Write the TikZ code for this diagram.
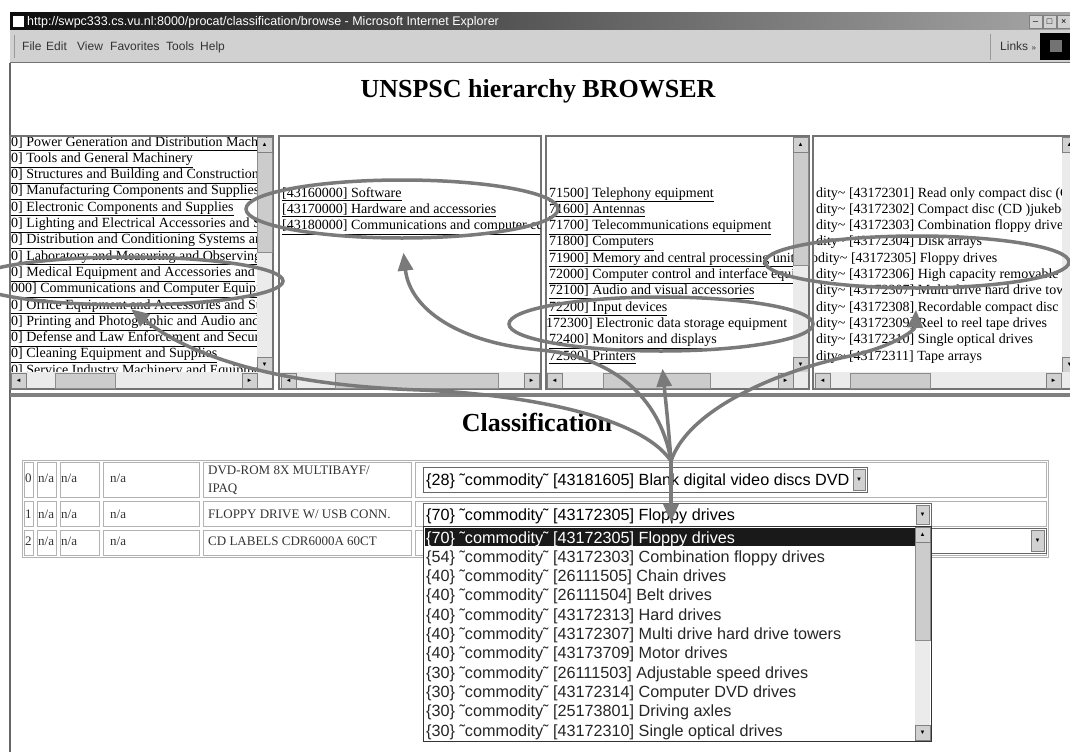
\documentclass[tikz,border=0pt]{standalone}
\usepackage{fontspec}
\setmainfont{Liberation Serif}
\setsansfont{Liberation Sans}
\usetikzlibrary{shapes.geometric, arrows.meta, positioning}

\newcommand{\lnk}[1]{\underline{#1}}
\newcommand{\cmty}{˜commodity˜}

\begin{document}
\begin{tikzpicture}[
  x=1pt, y=-1pt,
  %--- style definitions ---
  item/.style     = {anchor=base west, inner sep=0pt, font=\fontsize{14}{16}\selectfont},
  pane/.style     = {draw=black!55, line width=1.2pt, fill=white},
  track/.style    = {fill=black!8},
  thumb/.style    = {fill=black!20, draw=black!45, line width=0.6pt},
  sbtn/.style     = {rectangle, draw=black!50, fill=black!18, minimum size=15pt,
                     inner sep=0pt, anchor=north west, font=\sffamily\fontsize{6}{6}\selectfont},
  cellline/.style = {draw=black!30, line width=0.9pt},
  cellt/.style    = {anchor=base west, inner sep=0pt, font=\fontsize{13}{15}\selectfont, text=black!80},
  selbox/.style   = {rectangle, draw=black!60, line width=1pt, fill=white,
                     anchor=north west, inner sep=0pt},
  seltext/.style  = {anchor=base west, inner sep=0pt, font=\sffamily\fontsize{16.2}{19}\selectfont},
  heading/.style  = {font=\bfseries\fontsize{26}{30}\selectfont, inner sep=0pt},
  menu/.style     = {anchor=base west, inner sep=0pt, font=\sffamily\fontsize{12}{14}\selectfont, text=black!80},
  circ/.style     = {ellipse, draw=black!52, line width=3.5pt, inner sep=0pt},
  hlarrow/.style  = {-{Triangle[length=18pt,width=15pt]}, line width=3.5pt, draw=black!52},
]
\useasboundingbox (0,0) rectangle (1070,752);
\fill[white] (0,0) rectangle (1070,752);

%% ── WINDOW CHROME ──────────────────────────────────────────────────────────
\shade[left color=black!95, right color=black!35] (10,13) rectangle (1070,30);
\fill[white] (13,16) rectangle (24,27);
\node[anchor=base west, inner sep=0pt, text=white, font=\sffamily\fontsize{12.5}{14}\selectfont]
  (wtitle) at (27,26) {http://swpc333.cs.vu.nl:8000/procat/classification/browse - Microsoft Internet Explorer};
\node[sbtn, minimum size=13pt, font=\sffamily\fontsize{9}{9}\selectfont] (bmin) at (1029,15) {\_};
\node[sbtn, minimum size=13pt, font=\sffamily\fontsize{9}{9}\selectfont] (bmax) at (1043,15) {□};
\node[sbtn, minimum size=13pt, font=\sffamily\fontsize{9}{9}\selectfont] (bcls) at (1057,15) {×};

\fill[black!18] (10,30) rectangle (1070,62);
\draw[black!55, line width=1.5pt] (10,62.5) -- (1070,62.5);
\draw[black!40] (14,35) -- (14,58);
\node[menu] (mfile) at (22,51)  {File};
\node[menu] (medit) at (46,51)  {Edit};
\node[menu] (mview) at (77,51)  {View};
\node[menu] (mfav)  at (110,51) {Favorites};
\node[menu] (mtool) at (166,51) {Tools};
\node[menu] (mhelp) at (200,51) {Help};
\draw[black!40] (990,34) -- (990,60);
\node[menu] (mlinks) at (1000,51) {Links \fontsize{8}{8}\selectfont»};
\fill[black] (1040,33) rectangle (1070,60);
\fill[black!55] (1050,40) rectangle (1062,52);
\draw[black!60, line width=1.5pt] (10,63) -- (10,752);

%% ── TOP FRAME : BROWSER ────────────────────────────────────────────────────
\node[heading] (browser) at (538,91) {UNSPSC hierarchy BROWSER};

% panel 1 : segments
\draw[pane] (10,136) rectangle (273,389);
\begin{scope}
  \clip (11,137) rectangle (257,372);
  \foreach \t [count=\i from 0] in {
      0] Power Generation and Distribution Machinery,
      0] Tools and General Machinery,
      0] Structures and Building and Construction,
      0] Manufacturing Components and Supplies,
      0] Electronic Components and Supplies,
      0] Lighting and Electrical Accessories and Supplies,
      0] Distribution and Conditioning Systems and,
      0] Laboratory and Measuring and Observing,
      0] Medical Equipment and Accessories and,
      000] Communications and Computer Equipment,
      0] Office Equipment and Accessories and Supplies,
      0] Printing and Photographic and Audio and,
      0] Defense and Law Enforcement and Security,
      0] Cleaning Equipment and Supplies,
      0] Service Industry Machinery and Equipment}
    \node[item] (pa-\i) at (11,146+16.3*\i) {\lnk{\t}};
\end{scope}
\fill[track] (257,137) rectangle (272,372);
\fill[thumb] (257,152) rectangle (272,252);
\node[sbtn] (pa-up) at (257,137) {▲};
\node[sbtn] (pa-dn) at (257,357) {▼};
\fill[track] (11,372) rectangle (272,388);
\fill[thumb] (55,373) rectangle (115,388);
\node[sbtn] (pa-lt) at (11,373) {◄};
\node[sbtn] (pa-rt) at (242,373) {►};

% panel 2 : families
\draw[pane] (279,136) rectangle (541,389);
\begin{scope}
  \clip (280,137) rectangle (540,372);
  \foreach \t [count=\i from 0] in {
      [43160000] Software,
      [43170000] Hardware and accessories,
      [43180000] Communications and computer equipment}
    \node[item] (pb-\i) at (282,197+16.3*\i) {\lnk{\t}};
\end{scope}
\fill[track] (280,372) rectangle (540,388);
\fill[thumb] (335,373) rectangle (498,388);
\node[sbtn] (pb-lt) at (281,373) {◄};
\node[sbtn] (pb-rt) at (524,373) {►};

% panel 3 : classes
\draw[pane] (546,136) rectangle (809,389);
\begin{scope}
  \clip (547,137) rectangle (793,372);
  \foreach \t [count=\i from 0] in {
      71500] Telephony equipment,
      71600] Antennas,
      71700] Telecommunications equipment,
      71800] Computers,
      71900] Memory and central processing unit,
      72000] Computer control and interface equipment,
      72100] Audio and visual accessories,
      72200] Input devices,
      ,
      72400] Monitors and displays,
      72500] Printers}
    \node[item] (pc-\i) at (549,197+16.3*\i) {\lnk{\t}};
  \node[item] (pc-sel) at (546,197+16.3*8) {172300] Electronic data storage equipment};
\end{scope}
\fill[track] (793,137) rectangle (808,372);
\fill[thumb] (793,152) rectangle (808,265);
\node[sbtn] (pc-up) at (793,137) {▲};
\node[sbtn] (pc-dn) at (793,357) {▼};
\fill[track] (547,372) rectangle (808,388);
\fill[thumb] (603,373) rectangle (710,388);
\node[sbtn] (pc-lt) at (547,373) {◄};
\node[sbtn] (pc-rt) at (778,373) {►};

% panel 4 : commodities
\draw[pane] (813,136) rectangle (1078,389);
\begin{scope}
  \clip (814,137) rectangle (1062,372);
  \foreach \t [count=\i from 0] in {
      dity\textasciitilde{} [43172301] Read only compact disc (CD,
      dity\textasciitilde{} [43172302] Compact disc (CD )jukebox,
      dity\textasciitilde{} [43172303] Combination floppy drives,
      dity\textasciitilde{} [43172304] Disk arrays,
      ,
      dity\textasciitilde{} [43172306] High capacity removable,
      dity\textasciitilde{} [43172307] Multi drive hard drive tow,
      dity\textasciitilde{} [43172308] Recordable compact disc,
      dity\textasciitilde{} [43172309] Reel to reel tape drives,
      dity\textasciitilde{} [43172310] Single optical drives,
      dity\textasciitilde{} [43172311] Tape arrays}
    \node[item] (pd-\i) at (816,197+16.3*\i) {\t};
  \node[item] (pd-sel) at (811,197+16.3*4) {odity\textasciitilde{} [43172305] Floppy drives};
\end{scope}
\fill[track] (1062,137) rectangle (1077,372);
\node[sbtn] (pd-up) at (1062,137) {▲};
\node[sbtn] (pd-dn) at (1062,357) {▼};
\fill[track] (814,372) rectangle (1070,388);
\fill[thumb] (850,373) rectangle (930,388);
\node[sbtn] (pd-lt) at (815,373) {◄};
\node[sbtn] (pd-rt) at (1046,373) {►};

\fill[black!50] (10,393) rectangle (1070,397);

%% ── BOTTOM FRAME : CLASSIFICATION ──────────────────────────────────────────
\node[heading] (classif) at (537,422) {Classification};

\draw[cellline] (22,460) rectangle (1048,557);
\foreach \xa/\xb in {22/35, 35/58, 58/101, 101/201, 201/413, 413/1048}
  \foreach \ya/\yb in {460/499, 499/528, 528/557}
    \draw[cellline] (\xa+2,\ya+2) rectangle (\xb-2,\yb-2);

\foreach \r/\yb in {0/482, 1/518, 2/545} {
  \node[cellt] (r\r-n) at (25,\yb)  {\r};
  \node[cellt] (r\r-a) at (38,\yb)  {n/a};
  \node[cellt] (r\r-b) at (61,\yb)  {n/a};
  \node[cellt] (r\r-c) at (110,\yb) {n/a};
}
\node[cellt] (r0-d)  at (208,474) {DVD-ROM 8X MULTIBAYF/};
\node[cellt] (r0-d2) at (208,492) {IPAQ};
\node[cellt] (r1-d)  at (208,518) {FLOPPY DRIVE W/ USB CONN.};
\node[cellt] (r2-d)  at (208,545) {CD LABELS CDR6000A 60CT};

% select boxes
\node[selbox, minimum width=444pt, minimum height=25pt] (sel0) at (423,467) {};
\node[seltext] (sel0-t) at (426,485) {\{28\} \cmty{} [43181605] Blank digital video discs DVD};
\node[sbtn, minimum width=12pt, minimum height=21pt] (sel0-b) at (853,469) {▼};

\node[selbox, minimum width=623pt, minimum height=25pt] (sel2) at (423,528) {};
\node[sbtn, minimum width=13pt, minimum height=21pt] (sel2-b) at (1031,530) {▼};

\node[selbox, minimum width=508pt, minimum height=23pt] (sel1) at (423,503) {};
\node[seltext] (sel1-t) at (426,520) {\{70\} \cmty{} [43172305] Floppy drives};
\node[sbtn, minimum width=13pt, minimum height=19pt] (sel1-b) at (916,505) {▼};

% opened drop-down list
\node[selbox, draw=black!80, minimum width=508pt, minimum height=215pt] (dd) at (423,526) {};
\fill[black!90] (425,528) rectangle (915,546);
\foreach \t [count=\i from 0] in {
    ,
    \{54\} \cmty{} [43172303] Combination floppy drives,
    \{40\} \cmty{} [26111505] Chain drives,
    \{40\} \cmty{} [26111504] Belt drives,
    \{40\} \cmty{} [43172313] Hard drives,
    \{40\} \cmty{} [43172307] Multi drive hard drive towers,
    \{40\} \cmty{} [43173709] Motor drives,
    \{30\} \cmty{} [26111503] Adjustable speed drives,
    \{30\} \cmty{} [43172314] Computer DVD drives,
    \{30\} \cmty{} [25173801] Driving axles,
    \{30\} \cmty{} [43172310] Single optical drives}
  \node[seltext, text=black!85] (dd-\i) at (426,543+19.3*\i) {\t};
\node[seltext, text=white] (dd-hi) at (426,543) {\{70\} \cmty{} [43172305] Floppy drives};
\fill[track] (915,527) rectangle (930,740);
\fill[thumb] (915,542) rectangle (930,640);
\node[sbtn] (dd-up) at (915,527) {▲};
\node[sbtn] (dd-dn) at (915,725) {▼};

%% ── HAND-DRAWN MARKS ───────────────────────────────────────────────────────
\node[circ, minimum width=310pt, minimum height=48pt] (e1) at (128,281) {};
\node[circ, minimum width=312pt, minimum height=58pt] (e2) at (402,209) {};
\node[circ, minimum width=304pt, minimum height=54pt] (e3) at (661,324) {};
\node[circ, minimum width=304pt, minimum height=52pt] (e4) at (917,262) {};

\coordinate (hub)  at (671,461);
\coordinate (pick) at (671,522);

\draw[hlarrow] (hub) -- (pick);
\draw[hlarrow, shorten >=4pt] (hub) .. controls (640,415) and (520,394) .. (420,390)
  .. controls (300,386) and (200,364) .. (e1.south);
\draw[hlarrow, shorten >=13pt] (hub) .. controls (660,395) and (610,356) .. (540,350)
  .. controls (460,343) and (410,310) .. (e2.south);
\draw[hlarrow, shorten >=16pt] (hub) .. controls (668,420) and (665,395) .. (e3.south);
\draw[hlarrow, shorten >=20pt] (hub) .. controls (690,405) and (790,368) .. (850,356)
  .. controls (895,346) and (915,330) .. (e4.south);

\end{tikzpicture}
\end{document}
